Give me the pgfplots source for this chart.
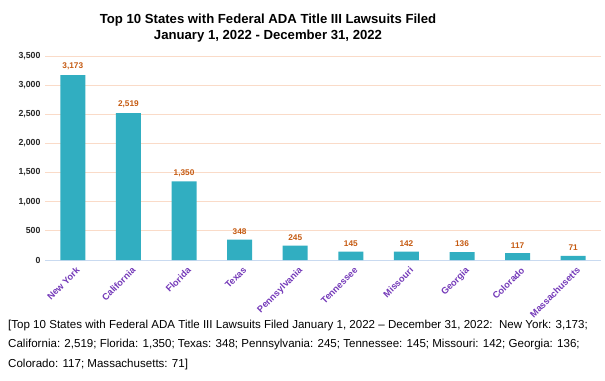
\documentclass[border=0pt]{standalone}
\usepackage{fontspec}
\setmainfont{Liberation Sans}
\usepackage{pgfplots}
\pgfplotsset{compat=1.18}
\definecolor{barc}{HTML}{31AEC1}
\definecolor{labc}{HTML}{C55A11}
\definecolor{xlabc}{HTML}{7338B8}
\definecolor{gridc}{HTML}{FADBC8}
\definecolor{basec}{HTML}{C9DAF0}
\definecolor{tickc}{HTML}{262626}
\begin{document}
\begin{tikzpicture}[x=1bp,y=1bp]
\path[use as bounding box] (0,0) rectangle (605,380);
\node[font=\bfseries\fontsize{13.2}{16}\selectfont, align=center] at (268,352) {Top 10 States with Federal ADA Title III Lawsuits Filed\\January 1, 2022 - December 31, 2022};
\begin{axis}[
  at={(45bp,120bp)}, anchor=south west,
  scale only axis, width=556bp, height=204bp,
  xmin=-0.5, xmax=9.5, ymin=0, ymax=3500,
  ytick={0,500,...,3500},
  xtick={0,...,9},
  xticklabels={New York,California,Florida,Texas,Pennsylvania,Tennessee,Missouri,Georgia,Colorado,Massachusetts},
  /pgf/number format/assume math mode=true,
  /pgf/number format/1000 sep={,},
  ymajorgrids, grid style={draw=gridc, line width=0.8bp},
  axis x line*=bottom, axis y line*=left,
  separate axis lines,
  x axis line style={draw=basec, line width=1bp, -},
  y axis line style={draw=none},
  major tick length=0pt,
  y tick label style={font=\bfseries\fontsize{8.8}{9}\selectfont, text=tickc, xshift=-1bp},
  x tick label style={font=\bfseries\fontsize{9.3}{10}\selectfont, text=xlabc, rotate=45, anchor=north east, xshift=1bp, yshift=-3bp},
  nodes near coords,
  every node near coord/.append style={font=\bfseries\fontsize{8.3}{8}\selectfont, text=labc, yshift=1.5bp},
  clip=false,
]
\addplot[ybar, bar width=25bp, fill=barc, draw=none] coordinates {
  (0,3173) (1,2519) (2,1350) (3,348) (4,245) (5,145) (6,142) (7,136) (8,117) (9,71)
};
\end{axis}
\begin{scope}[every node/.style={anchor=base west, inner sep=0pt, font=\fontsize{11.6}{14}\selectfont}]
\node at (8,52) {[Top 10 States with Federal ADA Title III Lawsuits Filed January 1, 2022 -- December 31, 2022:\ \ New York: 3,173;};
\node at (8,32.5) {California: 2,519; Florida: 1,350; Texas: 348; Pennsylvania: 245; Tennessee: 145; Missouri: 142; Georgia: 136;};
\node at (8,13) {Colorado: 117; Massachusetts: 71]};
\end{scope}
\end{tikzpicture}
\end{document}
